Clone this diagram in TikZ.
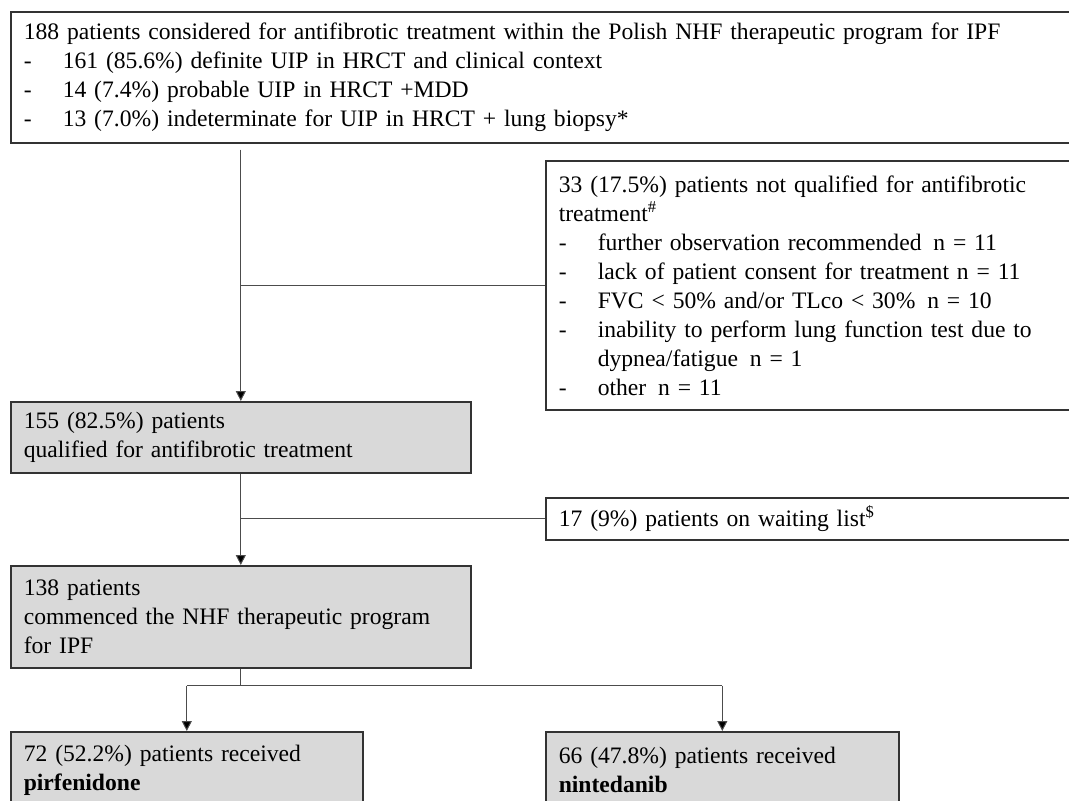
\documentclass[tikz,border=0pt]{standalone}
\usepackage{fontspec}
\setmainfont{Liberation Serif}
\usetikzlibrary{arrows.meta}
\newcommand{\dashitem}{\makebox[19.5pt][l]{-}}

\begin{document}
\begin{tikzpicture}
[x=0.5pt,y=-0.5pt,%
  boxLine/.style={draw=black!80,line width=0.8pt,anchor=north west,align=left,inner xsep=6.5pt,inner ysep=0pt,font=\fontsize{11.8}{14.5}\selectfont},%
  grayBox/.style={boxLine,fill=black!15},%
  plainLine/.style={-,line width=0.5pt,color=black!70},%
  arrowLine/.style={plainLine,-{Triangle[length=5pt,width=5pt,fill=black]}}]
\useasboundingbox (0,0) rectangle (1069,800);
\clip (0,0) rectangle (1069,800);
%% boxes
\node (top) at (10,11) [boxLine,text width=560pt,minimum height=65.5pt]
  {188 patients considered for antifibrotic treatment within the Polish NHF therapeutic program for IPF\\
   \dashitem 161 (85.6\%) definite UIP in HRCT and clinical context\\
   \dashitem 14 (7.4\%) probable UIP in HRCT +MDD\\
   \dashitem 13 (7.0\%) indeterminate for UIP in HRCT + lung biopsy*};
\node (excl) at (545,160) [boxLine,text width=259.5pt,minimum height=124.5pt]
  {33 (17.5\%) patients not qualified for antifibrotic\\
   treatment\textsuperscript{\#}\\
   \dashitem further observation recommended\, n = 11\\
   \dashitem lack of patient consent for treatment n = 11\\
   \dashitem FVC < 50\% and/or TLco < 30\%\, n = 10\\
   \dashitem inability to perform lung function test due to\\
   \hspace*{19.5pt}dypnea/fatigue\, n = 1\\
   \dashitem other\, n = 11};
\node (qual) at (10,401) [grayBox,text width=217pt,minimum height=35.5pt]
  {155 (82.5\%) patients\\ qualified for antifibrotic treatment};
\node (wait) at (545,497) [boxLine,text width=259.5pt,minimum height=21pt]
  {17 (9\%) patients on waiting list\textsuperscript{\$}};
\node (comm) at (10,565) [grayBox,text width=217pt,minimum height=51pt]
  {138 patients\\ commenced the NHF therapeutic program\\ for IPF};
\node (pirf) at (10,731) [grayBox,text width=163pt,minimum height=38.5pt]
  {72 (52.2\%) patients received\\ \textbf{pirfenidone}};
\node (nint) at (545,731) [grayBox,text width=163.5pt,minimum height=38.5pt]
  {66 (47.8\%) patients received\\ \textbf{nintedanib}};
%% main flow
\draw[arrowLine,shorten <=3pt] (top.south -| qual.north) -- (qual.north);
\draw[arrowLine] (qual.south) -- (comm.north);
%% side branches
\path
\foreach \sidenode in {excl, wait}
{
  (\sidenode.west -| qual.north) edge[plainLine] (\sidenode.west)
};
%% split into the two drugs
\draw[plainLine] (comm.south) -- ++(0,17) coordinate (fork);
\draw[plainLine] (fork -| pirf.north) -- (fork -| nint.north);
\foreach \drugnode in {pirf, nint}
{
  \draw[arrowLine] (fork -| \drugnode.north) -- (\drugnode.north);
}
\end{tikzpicture}
\end{document}
